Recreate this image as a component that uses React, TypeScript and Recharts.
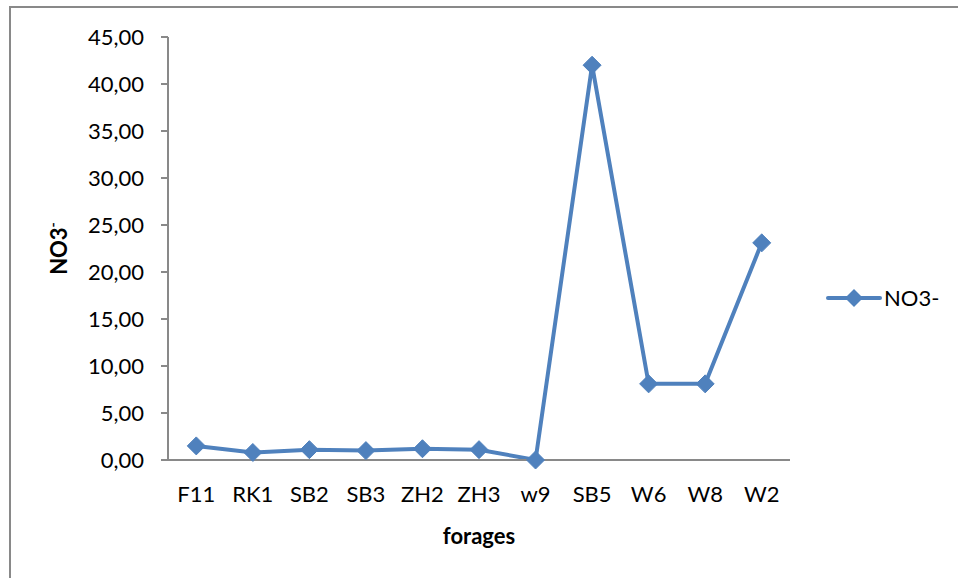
import { LineChart, Line, XAxis, YAxis, Legend } from "recharts";

const forages = ["F11", "RK1", "SB2", "SB3", "ZH2", "ZH3", "w9", "SB5", "W6", "W8", "W2"];
const no3 = [1.5, 0.8, 1.1, 1.0, 1.2, 1.1, 0.0, 42.0, 8.1, 8.1, 23.1];
const yTicks = [0, 5, 10, 15, 20, 25, 30, 35, 40, 45];

const data = forages.map((name, i) => ({ name, no3: no3[i] }));

const FONT = "Lato, 'Open Sans', sans-serif";
const BLUE = "#4F81BD";
const GRID = "#898989";

const fmt = (v: number) => v.toFixed(2).replace(".", ",");

function Diamond(props: any) {
  const { cx, cy } = props;
  if (cx == null || cy == null) return null;
  const r = 9;
  return (
    <path
      d={`M${cx},${cy - r} L${cx + r},${cy} L${cx},${cy + r} L${cx - r},${cy} Z`}
      fill={BLUE}
      stroke={BLUE}
    />
  );
}

function LegendBox() {
  return (
    <div style={{ display: "flex", alignItems: "center", fontFamily: FONT, fontSize: 22 }}>
      <svg width={56} height={20}>
        <line x1={2} y1={10} x2={54} y2={10} stroke={BLUE} strokeWidth={4} strokeLinecap="round" />
        <path d="M28,1 L37,10 L28,19 L19,10 Z" fill={BLUE} />
      </svg>
      <span style={{ color: "#000", marginLeft: 2 }}>NO3-</span>
    </div>
  );
}

function YLabel({ viewBox }: any) {
  const cy = viewBox ? viewBox.y + viewBox.height / 2 : 248;
  return (
    <text
      x={0}
      y={0}
      transform={`translate(67, ${cy}) rotate(-90)`}
      textAnchor="middle"
      fontFamily={FONT}
      fontSize={22}
      fontWeight={700}
      fill="#000"
    >
      NO3
      <tspan dy={-9} fontSize={14}>-</tspan>
    </text>
  );
}

export default function App() {
  return (
    <div style={{ position: "fixed", left: 0, top: 0, width: 958, height: 578, overflow: "hidden", background: "#fff" }}>
      <div style={{ position: "absolute", left: 9, top: 6, width: 2, height: 600, background: GRID }} />
      <div style={{ position: "absolute", left: 9, top: 6, width: 960, height: 2, background: GRID }} />
      <div style={{ position: "absolute", left: 0, top: 0 }}>
        <LineChart width={958} height={578} data={data} margin={{ top: 37, right: 168, bottom: 0, left: 0 }}>
          <XAxis
            dataKey="name"
            scale="band"
            tickLine={false}
            axisLine={{ stroke: GRID, strokeWidth: 2 }}
            tick={{ fill: "#000", fontSize: 22, fontFamily: FONT }}
            tickMargin={20}
            interval={0}
            height={118}
            label={{
              value: "forages",
              position: "insideBottom",
              offset: 34,
              fill: "#000",
              fontSize: 22,
              fontWeight: 700,
              fontFamily: FONT,
            }}
          />
          <YAxis
            width={168}
            domain={[0, 45]}
            ticks={yTicks}
            interval={0}
            tickFormatter={fmt}
            tickSize={7}
            tickMargin={17}
            tickLine={{ stroke: GRID, strokeWidth: 2 }}
            axisLine={{ stroke: GRID, strokeWidth: 2 }}
            tick={{ fill: "#000", fontSize: 22, fontFamily: FONT }}
            label={<YLabel />}
          />
          <Legend
            layout="vertical"
            align="center"
            verticalAlign="middle"
            content={<LegendBox />}
            wrapperStyle={{ left: 826, top: 284, width: 130 }}
          />
          <Line
            type="linear"
            dataKey="no3"
            name="NO3-"
            stroke={BLUE}
            strokeWidth={4}
            dot={<Diamond />}
            activeDot={false}
            isAnimationActive={false}
          />
        </LineChart>
      </div>
    </div>
  );
}
